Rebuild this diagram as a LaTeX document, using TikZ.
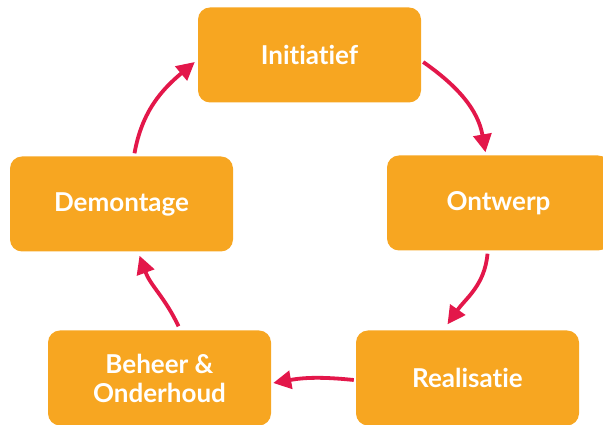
\documentclass[tikz,border=0pt]{standalone}
\usepackage{fontspec}
\setmainfont{Lato}[Ligatures={NoCommon,NoRare}]
\usepackage{xcolor}
\usetikzlibrary{arrows.meta,positioning}
\definecolor{fasegeel}{RGB}{247,166,33}
\definecolor{pijlrood}{RGB}{227,23,74}

\begin{document}
\begin{tikzpicture}[x=1pt,y=1pt,font=\bfseries\fontsize{26}{29}\selectfont]
\tikzset{fase/.style={fill=fasegeel,rounded corners=12pt,text=white,
minimum width=223pt,minimum height=95pt,align=center,inner sep=0pt},
pijl/.style={draw=pijlrood,line width=3.8pt,-{Triangle[length=18pt,width=18pt]}}}
\useasboundingbox (0,0) rectangle (603,425);
\node[fase] (ini) at (309.5,370) {Initiatief};
\node[fase] (ont) at (498.5,222) {Ontwerp};
\node[fase] (rea) at (467.5,47) {Realisatie};
\node[fase] (beh) at (159.5,47) {Beheer \&\\Onderhoud};
\node[fase] (dem) at (121.5,221) {Demontage};
\draw[pijl] ([xshift=2pt,yshift=-7pt]ini.east) to[out=-35,in=100] ([xshift=-13pt,yshift=3pt]ont.north);
\draw[pijl] ([xshift=-11pt,yshift=-3pt]ont.south) to[out=-95,in=55] ([xshift=-20pt,yshift=6pt]rea.north);
\draw[pijl] ([xshift=-2pt,yshift=-2pt]rea.west) to[bend right=8] ([xshift=2pt,yshift=-5pt]beh.east);
\draw[pijl] ([xshift=19pt,yshift=4pt]beh.north) to[out=115,in=-70] ([xshift=18pt,yshift=-4pt]dem.south);
\draw[pijl] ([xshift=13pt,yshift=3pt]dem.north) to[out=80,in=-140] ([xshift=-3pt,yshift=-7pt]ini.west);
\end{tikzpicture}
\end{document}
